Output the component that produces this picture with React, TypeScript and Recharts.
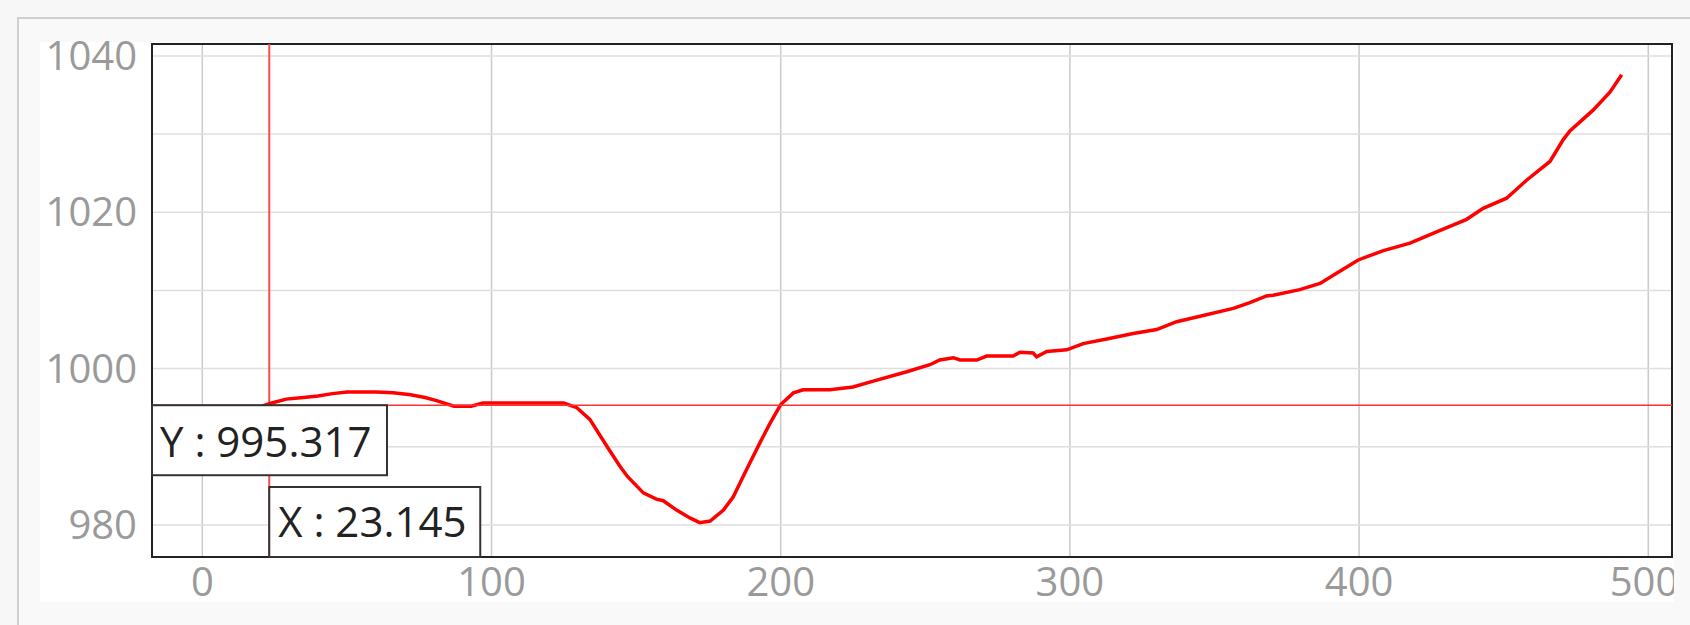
import React from 'react';
import {
  LineChart,
  Line,
  XAxis,
  YAxis,
  CartesianGrid,
  ReferenceLine,
  ReferenceArea,
} from 'recharts';

// Curve samples (x, value)
const xValues = [
  0, 7, 13, 19, 24, 29, 35, 40, 45, 50, 60, 66, 72, 77, 81, 87, 93, 97, 110, 125,
  129.5, 134, 140, 144.4, 147, 152.5, 157, 159.4, 164, 168.6, 172, 175.6, 180.2, 183.6, 188.2, 192.8,
  196.3, 200, 204.4, 207.8, 217, 225, 232, 243.6, 251.6, 255, 259.7, 262, 267.8, 271.2,
  280.4, 282.7, 287.3, 288.5, 292, 298.9, 304.6, 312.7, 321.9, 330, 336.9, 345, 356.5, 362,
  368, 370.3, 379.5, 386.5, 392.2, 399.7, 408.4, 417.6, 426.8, 437.2, 442.9, 451, 457.9, 466,
  470.6, 472.9, 481, 486.8, 490.8,
];
const yValues = [
  993.7, 993.7, 994.4, 995.0, 995.6, 996.1, 996.3, 996.5, 996.8, 997.0, 997.0, 996.9, 996.65, 996.3, 995.9, 995.2, 995.2, 995.6, 995.6, 995.6,
  995.0, 993.5, 990.0, 987.5, 986.2, 984.1, 983.3, 983.1, 981.9, 980.9, 980.3, 980.5, 981.9, 983.6, 987.1, 990.5,
  993.0, 995.4, 996.9, 997.3, 997.3, 997.65, 998.4, 999.6, 1000.5, 1001.1, 1001.4, 1001.1, 1001.1, 1001.6,
  1001.6, 1002.1, 1002.0, 1001.5, 1002.2, 1002.4, 1003.2, 1003.8, 1004.5, 1005.0, 1006.0, 1006.7, 1007.7, 1008.4,
  1009.3, 1009.4, 1010.1, 1010.9, 1012.2, 1013.9, 1015.1, 1016.05, 1017.5, 1019.1, 1020.5, 1021.8, 1024.1, 1026.5,
  1029.3, 1030.4, 1033.1, 1035.4, 1037.6,
];

const xTicks = [0, 100, 200, 300, 400, 500];
const yTicks = [980, 990, 1000, 1010, 1020, 1030, 1040];
const yLabelled = [980, 1000, 1020, 1040];

const xDomain = [-17.4, 508.2];
const yDomain = [975.9, 1041.53];

// cursor readout
const cursorX = 23.145;
const cursorY = 995.317;

const data = xValues.map((x, i) => ({ x, y: yValues[i] }));

const FONT = '"Open Sans", sans-serif';
const tickStyle = { fontFamily: FONT, fontSize: 40, fill: '#9a9a9a' };

function YReadout({ viewBox }: any) {
  const x = viewBox.x;
  const y = viewBox.y;
  return (
    <g>
      <rect x={x} y={y} width={235} height={70} fill="#fff" stroke="#333" strokeWidth={2} />
      <text x={x + 8} y={y + 52} fontFamily={FONT} fontSize={42} fill="#222">
        {`Y : ${cursorY}`}
      </text>
    </g>
  );
}

function XReadout({ viewBox }: any) {
  const x = viewBox.x;
  const bottom = viewBox.y + viewBox.height;
  return (
    <g>
      <rect x={x} y={bottom - 70} width={211} height={70} fill="#fff" stroke="#333" strokeWidth={2} />
      <text x={x + 9} y={bottom - 20} fontFamily={FONT} fontSize={42} fill="#222">
        {`X : ${cursorX}`}
      </text>
    </g>
  );
}

export default function App() {
  return (
    <div style={{ position: 'absolute', left: 0, top: 0, width: 1690, height: 625, background: '#f7f7f7', overflow: 'hidden' }}>
      <div
        style={{
          position: 'absolute',
          left: 17,
          top: 17,
          width: 1680,
          height: 620,
          borderTop: '2px solid #cfcfcf',
          borderLeft: '2px solid #cfcfcf',
          background: '#f9f9f9',
        }}
      />
      <div style={{ position: 'absolute', left: 40, top: 42, width: 1634, height: 560, background: '#fff' }} />
      <div style={{ position: 'absolute', left: 40, top: 22 }}>
        <LineChart width={1634} height={598} data={data} margin={{ top: 22, right: 2, bottom: 18, left: 0 }}>
          <CartesianGrid horizontal={false} stroke="#cacaca" strokeWidth={1.5} />
          <CartesianGrid vertical={false} stroke="#dedede" strokeWidth={1.5} />
          <XAxis
            dataKey="x"
            type="number"
            domain={xDomain}
            allowDataOverflow
            ticks={xTicks}
            height={45}
            tickSize={0}
            tickMargin={11}
            axisLine={false}
            tick={tickStyle}
          />
          <YAxis
            type="number"
            domain={yDomain}
            allowDataOverflow
            ticks={yTicks}
            width={112}
            tickSize={0}
            tickMargin={15}
            axisLine={false}
            tick={tickStyle}
            tickFormatter={(v: number) => (yLabelled.includes(v) ? String(v) : '')}
          />
          <ReferenceArea
            x1={xDomain[0]}
            x2={xDomain[1]}
            y1={yDomain[0]}
            y2={yDomain[1]}
            fill="none"
            stroke="#222"
            strokeWidth={2}
          />
          <ReferenceLine x={cursorX} stroke="#ff4a4a" strokeWidth={2} />
          <Line
            type="linear"
            dataKey="y"
            stroke="#ff0000"
            strokeWidth={3.5}
            dot={false}
            isAnimationActive={false}
          />
          <ReferenceLine y={cursorY} stroke="#ff3030" strokeWidth={1.5} label={<YReadout />} />
          <ReferenceLine x={cursorX} stroke="none" label={<XReadout />} />
        </LineChart>
      </div>
    </div>
  );
}
